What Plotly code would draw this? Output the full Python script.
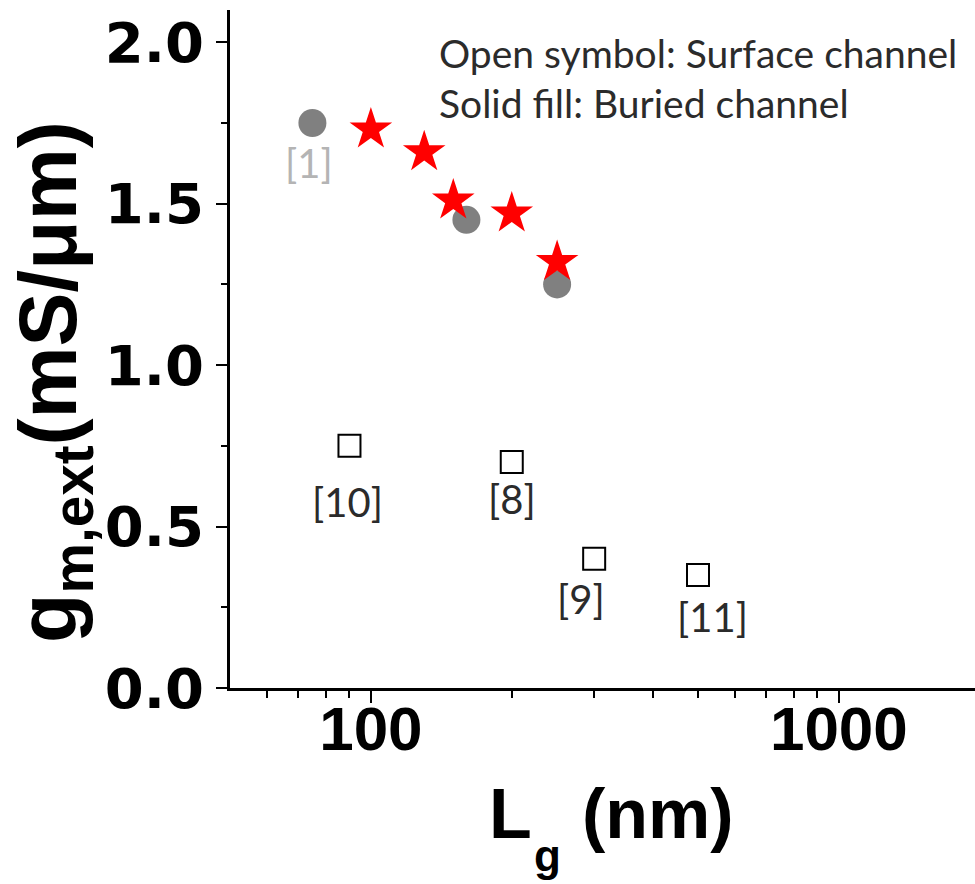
import numpy as np
import plotly.graph_objects as go

# ---------------- data ----------------
circle_lg = [75, 160, 250]            # buried channel (solid gray)
circle_gm = [1.75, 1.45, 1.25]
circle_ref = ["[1]"]                  # label of the first circle

star_lg = [100, 130, 150, 200, 250]   # this work (red stars)
star_gm = [1.73, 1.66, 1.51, 1.47, 1.32]

square_lg = [90, 200, 300, 500]       # surface channel (open squares)
square_gm = [0.75, 0.70, 0.40, 0.35]
square_ref = ["[10]", "[8]", "[9]", "[11]"]

x_tickvals = [100, 1000]
x_ticktext = ["100", "1000"]
x_minor = [60, 70, 80, 90, 200, 300, 400, 500, 600, 700, 800, 900]
y_tickvals = [0.0, 0.5, 1.0, 1.5, 2.0]
y_ticktext = ["0.0", "0.5", "1.0", "1.5", "2.0"]

legend_lines = ["Open symbol: Surface channel", "Solid fill: Buried channel"]

# ---------------- layout geometry ----------------
W, H = 975, 884
ML, MR, MT, MB = 230, 0, 10, 196
PW = W - ML - MR
PH = H - MT - MB
DECADE = 468.0
x_lo = np.log10(50)
x_hi = x_lo + PW / DECADE
y_range = [0, 2.1]


def px2paper(px, py):
    return (px - ML) / PW, (H - MB - py) / PH


fig = go.Figure()

fig.add_trace(go.Scatter(
    x=circle_lg, y=circle_gm, mode="markers",
    marker=dict(symbol="circle", size=28, color="#808080", line=dict(width=0)),
    showlegend=False, cliponaxis=False))

fig.add_trace(go.Scatter(
    x=star_lg, y=star_gm, mode="markers",
    marker=dict(symbol="star", size=32, color="#ff0000", line=dict(width=0)),
    showlegend=False, cliponaxis=False))

fig.add_trace(go.Scatter(
    x=square_lg, y=square_gm, mode="markers",
    marker=dict(symbol="square-open", size=22, color="#000000", line=dict(width=2)),
    showlegend=False, cliponaxis=False))

label_font = dict(family="Lato, 'Open Sans', sans-serif", size=40)

# reference labels next to points
circle_shift = [(-3, -40)]
for xv, yv, t, (dx, dy) in zip(circle_lg, circle_gm, circle_ref, circle_shift):
    fig.add_annotation(x=np.log10(xv), y=yv, xref="x", yref="y", text=t,
                       showarrow=False, xshift=dx, yshift=dy,
                       font=dict(label_font, color="#b4b4b4"))

square_shift = [(-2, -56), (0, -37), (-13, -40), (14, -42)]
for xv, yv, t, (dx, dy) in zip(square_lg, square_gm, square_ref, square_shift):
    fig.add_annotation(x=np.log10(xv), y=yv, xref="x", yref="y", text=t,
                       showarrow=False, xshift=dx, yshift=dy,
                       font=dict(label_font, color="#2b2b2b"))

# legend-like text
for i, line in enumerate(legend_lines):
    px, py = px2paper(437, 53 + 50 * i)
    fig.add_annotation(x=px, y=py, xref="paper", yref="paper", text=line,
                       xanchor="left", yanchor="middle", showarrow=False,
                       font=dict(label_font, size=39, color="#2b2b2b"))

# x axis title: L, subscript g, (nm)
title_font = dict(family="'Liberation Sans', Arial, sans-serif", color="#000", weight="bold")
px, py = px2paper(534, 814)
fig.add_annotation(x=px, y=py, xref="paper", yref="paper", text="L", showarrow=False,
                   xanchor="right", yanchor="middle", font=dict(title_font, size=70))
px, py = px2paper(547, 882)
fig.add_annotation(x=px, y=py, xref="paper", yref="paper", text="g", showarrow=False,
                   xanchor="center", yanchor="bottom", font=dict(title_font, size=44))
px, py = px2paper(580, 814)
fig.add_annotation(x=px, y=py, xref="paper", yref="paper", text="(nm)", showarrow=False,
                   xanchor="left", yanchor="middle", font=dict(title_font, size=70))

# y axis title
yx, yy = px2paper(54, 382)
fig.add_annotation(x=yx, y=yy, xref="paper", yref="paper",
                   text="g<sub>m,ext</sub>(mS/μm)", showarrow=False,
                   textangle=-90, xanchor="center", yanchor="middle",
                   font=dict(title_font, size=81))

axis_common = dict(showgrid=False, zeroline=False, linecolor="#000", linewidth=2.5,
                   tickcolor="#000", tickwidth=2)

fig.update_layout(
    width=W, height=H,
    margin=dict(l=ML, r=MR, t=MT, b=MB, pad=0),
    paper_bgcolor="white", plot_bgcolor="white",
    showlegend=False,
    xaxis=dict(axis_common, type="log", range=[x_lo, x_hi], showline=True,
               ticks="outside", ticklen=12, tickvals=x_tickvals, ticktext=x_ticktext,
               minor=dict(ticks="outside", ticklen=7, tickwidth=2, tickcolor="#000",
                          tickvals=x_minor),
               tickfont=dict(family="'Liberation Sans', Arial, sans-serif", size=62,
                             color="#000", weight="bold"),
               ticklabelstandoff=-27),
    xaxis2=dict(axis_common, type="log", range=[x_lo, x_hi], overlaying="x", side="top",
                anchor="y", showline=True, ticks="inside", ticklen=10,
                tickvals=x_tickvals, showticklabels=False,
                minor=dict(ticks="inside", ticklen=5, tickwidth=2, tickcolor="#000",
                           tickvals=x_minor)),
    yaxis=dict(axis_common, range=y_range, showline=True, ticks="outside", ticklen=11,
               tickvals=y_tickvals, ticktext=y_ticktext,
               minor=dict(ticks="outside", ticklen=6, tickwidth=2, tickcolor="#000", dtick=0.25),
               tickfont=dict(family="'DejaVu Sans', sans-serif", size=56, color="#000",
                             weight="bold"),
               ticklabelstandoff=1),
    yaxis2=dict(axis_common, range=y_range, overlaying="y", side="right", anchor="x",
                showline=False, ticks="inside", ticklen=8, tickvals=y_tickvals,
                showticklabels=False,
                minor=dict(ticks="inside", ticklen=4, tickwidth=2, tickcolor="#000", dtick=0.25)),
)

fig.write_html("out.html")
